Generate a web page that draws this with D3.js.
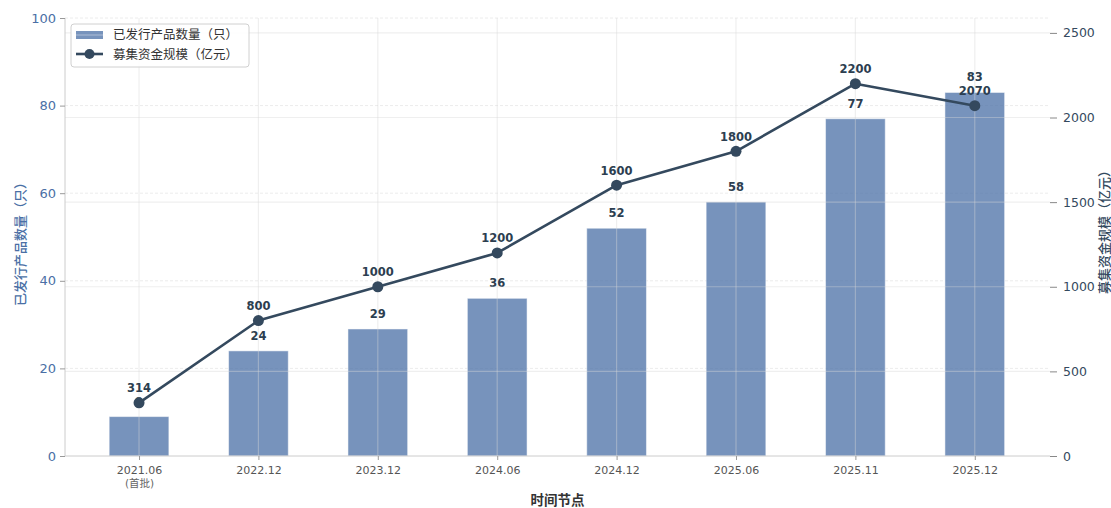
<!DOCTYPE html>
<html><head><meta charset="utf-8">
<script src="https://cdn.jsdelivr.net/npm/d3@7"></script>
<style>
body{margin:0;background:#fff;}
text{font-family:"DejaVu Sans","Noto Sans CJK SC",sans-serif;}
</style></head><body>
<svg id="c" width="1111" height="508"></svg>
<script>
const categories = ["2021.06","2022.12","2023.12","2024.06","2024.12","2025.06","2025.11","2025.12"];
const subLabels = ["(首批)","","","","","","",""];
const productCounts = [9,24,29,36,52,58,77,83];
const fundScale = [314,800,1000,1200,1600,1800,2200,2070];
const leftTicks = [0,20,40,60,80,100];
const rightTicks = [0,500,1000,1500,2000,2500];
const barName = "已发行产品数量（只）";
const lineName = "募集资金规模（亿元）";
const xTitle = "时间节点";

const svg = d3.select("#c");
const L = 65, R = 1050, T = 18, B = 456;
const x = d3.scaleLinear().domain([-0.62, 7.63]).range([L, R]);
const yL = d3.scaleLinear().domain([0, 100]).range([B, T]);
const yR = d3.scaleLinear().domain([0, 2588]).range([B, T]);
const step = x(1) - x(0);
const barW = step * 0.5;
const barColor = "#4a6fa5", lineColor = "#34495e";
const sans = '"DejaVu Sans","Noto Sans CJK SC",sans-serif';
const cjk = '"Noto Sans CJK SC",sans-serif';

// left grid (dashed) behind bars
const g0 = svg.append("g");
g0.selectAll("line.lg").data(leftTicks.slice(1)).join("line")
  .attr("x1", L).attr("x2", R).attr("y1", d => yL(d)).attr("y2", d => yL(d))
  .attr("stroke", "#ececec").attr("stroke-width", 1).attr("stroke-dasharray", "3,2");

// bars
svg.append("g").selectAll("rect").data(productCounts).join("rect")
  .attr("x", (d, i) => x(i) - barW / 2).attr("width", barW)
  .attr("y", d => yL(d)).attr("height", d => B - yL(d))
  .attr("fill", barColor).attr("fill-opacity", 0.75)
  .attr("stroke", "#ffffff").attr("stroke-opacity", 0.5).attr("stroke-width", 1);

// bar labels
svg.append("g").selectAll("text").data(productCounts).join("text")
  .attr("x", (d, i) => x(i)).attr("y", d => yL(d) - 11)
  .attr("text-anchor", "middle").attr("font-size", 11.5).attr("font-weight", "bold")
  .attr("fill", "#2c3e50").text(d => d);

// right grid (solid) over bars
const g1 = svg.append("g");
g1.selectAll("line.rg").data(rightTicks.slice(1)).join("line")
  .attr("x1", L).attr("x2", R).attr("y1", d => yR(d)).attr("y2", d => yR(d))
  .attr("stroke", "#d8d8d8").attr("stroke-opacity", 0.4).attr("stroke-width", 1.2);
g1.selectAll("line.vg").data(categories).join("line")
  .attr("x1", (d, i) => x(i)).attr("x2", (d, i) => x(i)).attr("y1", T).attr("y2", B)
  .attr("stroke", "#d8d8d8").attr("stroke-opacity", 0.4).attr("stroke-width", 1.2);

// spines
svg.append("line").attr("x1", L).attr("x2", L).attr("y1", T).attr("y2", B).attr("stroke", "#cccccc").attr("stroke-width", 1);
svg.append("line").attr("x1", L).attr("x2", R).attr("y1", B).attr("y2", B).attr("stroke", "#cccccc").attr("stroke-width", 1);

// left axis
const ax1 = svg.append("g").attr("transform", `translate(${L},0)`)
  .call(d3.axisLeft(yL).tickValues(leftTicks).tickSize(5).tickPadding(4));
ax1.select(".domain").remove();
ax1.selectAll(".tick line").attr("stroke", "#999");
ax1.selectAll(".tick text").attr("fill", barColor).attr("font-size", 13).attr("font-family", sans);

// right axis
const ax2 = svg.append("g").attr("transform", `translate(${R},0)`)
  .call(d3.axisRight(yR).tickValues(rightTicks).tickFormat(d3.format("d")).tickSize(7).tickPadding(6));
ax2.select(".domain").remove();
ax2.selectAll(".tick line").attr("stroke", "#888");
ax2.selectAll(".tick text").attr("fill", lineColor).attr("font-size", 12.5).attr("font-family", sans);

// x axis
const xa = svg.append("g").attr("transform", `translate(0,${B})`)
  .call(d3.axisBottom(x).tickValues(d3.range(categories.length)).tickFormat(i => categories[i]).tickSize(4).tickPadding(6));
xa.select(".domain").remove();
xa.selectAll(".tick line").attr("stroke", "#999");
xa.selectAll(".tick text").attr("fill", "#555").attr("font-size", 11).attr("font-family", sans);
xa.selectAll(".tick").each(function(d, i) {
  if (subLabels[i]) d3.select(this).append("text").attr("y", 31).attr("text-anchor", "middle")
    .attr("fill", "#666").attr("font-size", 10.5).attr("font-family", cjk).text(subLabels[i]);
});

// line
const line = d3.line().x((d, i) => x(i)).y(d => yR(d));
svg.append("path").datum(fundScale).attr("d", line).attr("fill", "none")
  .attr("stroke", lineColor).attr("stroke-width", 2.6).attr("stroke-linejoin", "round");
svg.append("g").selectAll("circle").data(fundScale).join("circle")
  .attr("cx", (d, i) => x(i)).attr("cy", d => yR(d)).attr("r", 5.5).attr("fill", lineColor);
svg.append("g").selectAll("text").data(fundScale).join("text")
  .attr("x", (d, i) => x(i)).attr("y", d => yR(d) - 10.5)
  .attr("text-anchor", "middle").attr("font-size", 11.5).attr("font-weight", "bold")
  .attr("fill", "#2c3e50").text(d => d);

// axis titles
svg.append("text").attr("transform", `translate(25,${(T + B) / 2 + 4}) rotate(-90)`)
  .attr("text-anchor", "middle").attr("font-size", 13).attr("font-weight", 500)
  .attr("font-family", cjk).attr("fill", barColor).text(barName);
svg.append("text").attr("transform", `translate(1109,${(T + B) / 2 - 8}) rotate(-90)`)
  .attr("text-anchor", "middle").attr("font-size", 13).attr("font-weight", 500)
  .attr("font-family", cjk).attr("fill", lineColor).text(lineName);
svg.append("text").attr("x", (L + R) / 2).attr("y", 505)
  .attr("text-anchor", "middle").attr("font-size", 13.5).attr("font-weight", "bold")
  .attr("font-family", cjk).attr("fill", "#333").text(xTitle);

// legend
const lg = svg.append("g").attr("transform", "translate(71,24)");
lg.append("rect").attr("width", 178).attr("height", 43).attr("rx", 3)
  .attr("fill", "#fff").attr("fill-opacity", 0.85).attr("stroke", "#d0d0d0");
lg.append("rect").attr("x", 5).attr("y", 7).attr("width", 27).attr("height", 8)
  .attr("fill", barColor).attr("fill-opacity", 0.75);
lg.append("line").attr("x1", 5).attr("x2", 32).attr("y1", 11).attr("y2", 11).attr("stroke", "#fff").attr("stroke-opacity", 0.4);
lg.append("line").attr("x1", 5).attr("x2", 32).attr("y1", 30).attr("y2", 30).attr("stroke", lineColor).attr("stroke-width", 2.6);
lg.append("circle").attr("cx", 18.5).attr("cy", 30).attr("r", 5).attr("fill", lineColor);
lg.append("text").attr("x", 42).attr("y", 15).attr("font-size", 12.5).attr("font-family", cjk).attr("fill", "#333").text(barName);
lg.append("text").attr("x", 42).attr("y", 35).attr("font-size", 12.5).attr("font-family", cjk).attr("fill", "#333").text(lineName);
</script>
</body></html>
